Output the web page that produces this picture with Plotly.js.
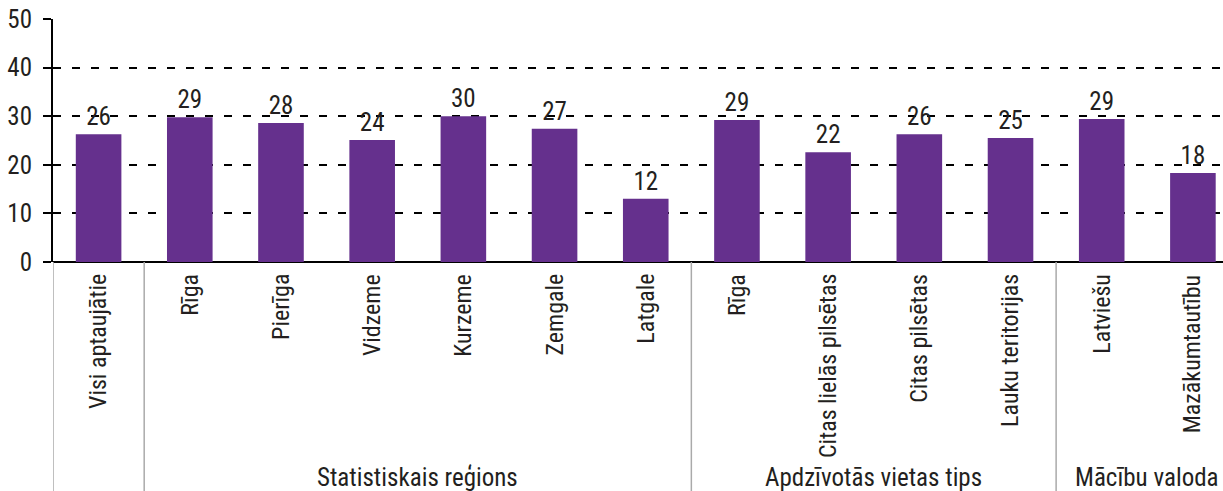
<!DOCTYPE html>
<html>
<head>
<meta charset="utf-8">
<script src="https://cdn.plot.ly/plotly-3.0.1.min.js"></script>
<style>
html,body{margin:0;padding:0;background:#fff;}
#chart{width:1223px;height:491px;}
#chart text{font-stretch:75% !important;}
</style>
</head>
<body>
<div id="chart"></div>
<script>
const categories = ["Visi aptaujātie", "Rīga", "Pierīga", "Vidzeme", "Kurzeme", "Zemgale", "Latgale",
  "Rīga", "Citas lielās pilsētas", "Citas pilsētas", "Lauku teritorijas", "Latviešu", "Mazākumtautību"];
const barValues = [26.3, 29.8, 28.6, 25.1, 30.0, 27.4, 13.0, 29.2, 22.6, 26.3, 25.5, 29.4, 18.3];
const valueLabels = ["26", "29", "28", "24", "30", "27", "12", "29", "22", "26", "25", "29", "18"];
const groupNames = ["Statistiskais reģions", "Apdzīvotās vietas tips", "Mācību valoda"];
const groupCenters = [3.5, 8.5, 11.5];
const separators = [-0.5, 0.5, 6.5, 10.5];
const yTicks = [0, 10, 20, 30, 40, 50];

const FONT = '"Roboto Condensed", "Liberation Sans Narrow", "Open Sans Condensed", "DejaVu Sans Condensed", "Open Sans", "Liberation Sans", sans-serif';
const TXT = '#231f20';
const FS = 25;
const xPos = categories.map((c, i) => i);

const trace = {
  type: 'bar',
  x: xPos,
  y: barValues,
  text: valueLabels,
  textposition: 'outside',
  cliponaxis: false,
  textfont: {family: FONT, size: FS, color: TXT},
  marker: {color: '#65308d'},
  width: 0.5,
  hoverinfo: 'none'
};

const shapes = separators.map(s => ({
  type: 'line', xref: 'x', yref: 'paper',
  x0: s, x1: s, y0: 0, y1: -0.945,
  line: {color: '#aaaaaa', width: 1.5}
}));

const annotations = groupNames.map((g, i) => ({
  text: g, xref: 'x', yref: 'paper', x: groupCenters[i], y: -0.885,
  showarrow: false, yanchor: 'middle', xanchor: 'center',
  font: {family: FONT, size: FS, color: TXT}
})).concat(categories.map((c, i) => ({
  text: c, xref: 'x', yref: 'paper', x: xPos[i], y: -0.045,
  showarrow: false, textangle: -90, xanchor: 'center', yanchor: 'top',
  borderpad: 0,
  font: {family: FONT, size: 24, color: TXT}
})));

const layout = {
  width: 1223, height: 491,
  margin: {l: 53, r: 0, t: 19, b: 229},
  paper_bgcolor: '#fff', plot_bgcolor: '#fff',
  showlegend: false,
  font: {family: FONT, size: FS, color: TXT},
  xaxis: {
    type: 'linear',
    range: [-0.5, 12.33],
    showticklabels: false,
    ticks: '',
    showgrid: false,
    zeroline: false,
    showline: false
  },
  yaxis: {
    range: [0, 50],
    tickmode: 'array',
    tickvals: yTicks,
    ticks: 'outside',
    ticklen: 8,
    tickwidth: 2,
    tickcolor: '#000',
    ticklabelstandoff: 6,
    showline: true,
    linecolor: '#000',
    linewidth: 2,
    showgrid: true,
    gridcolor: '#000',
    gridwidth: 2,
    griddash: '8px,11px',
    zeroline: true,
    zerolinecolor: '#000',
    zerolinewidth: 2,
    tickfont: {family: FONT, size: FS, color: TXT}
  },
  shapes: shapes,
  annotations: annotations
};

Plotly.newPlot('chart', [trace], layout, {displayModeBar: false, staticPlot: true});
</script>
</body>
</html>
